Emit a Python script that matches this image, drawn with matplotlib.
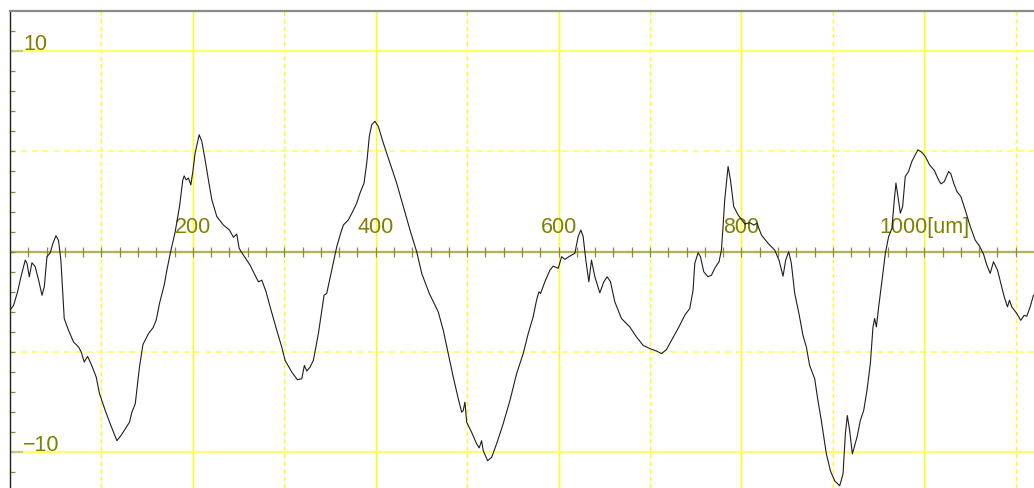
import matplotlib
matplotlib.use("Agg")
import matplotlib.pyplot as plt
import numpy as np

# Surface profile trace: position [um] and height
pos_um = [
    0.0, 3.9, 8.3, 12.0, 16.7, 18.6, 21.1, 24.0, 27.6, 31.3, 35.0, 37.5, 40.4, 44.0,
    47.0, 50.3, 53.1, 55.7, 59.3, 64.0, 69.5, 75.0, 77.9, 81.2, 84.8, 88.5, 94.3,
    97.9, 104.2, 109.6, 116.9, 121.3, 126.0, 130.7, 133.3, 137.0, 141.6, 145.4,
    151.5, 156.3, 159.9, 163.5, 168.6, 171.6,
    175.2, 180.7, 185.4, 189.0, 190.5, 192.7, 195.2, 197.8, 200.0, 202.5, 206.9,
    209.8, 213.4, 217.0, 220.8, 226.2, 233.4, 240.0, 244.4, 248.0, 250.6, 255.3,
    262.6, 268.0, 271.7, 275.4, 280.1, 284.5, 291.8, 297.2, 300.9, 308.2, 314.3,
    319.1, 322.0, 324.6, 328.2, 331.8, 337.3, 343.5, 346.4, 351.9, 357.4, 361.5,
    364.6, 370.0, 374.8, 379.2, 382.8, 387.2, 390.2, 393.0, 395.6, 399.2, 402.8,
    408.3, 415.6, 422.9, 430.2, 437.5, 444.8, 450.3, 458.6, 468.4, 473.9, 479.3,
    484.8, 490.3, 494.0, 495.7, 497.6, 499.5, 504.9, 510.4, 513.2, 515.8, 517.6,
    522.4, 526.8, 532.2, 539.4, 546.8,
    554.1, 561.3, 566.8, 572.2, 575.9, 578.5, 580.3, 585.0, 590.5, 594.1, 599.6,
    603.3, 606.9, 612.3, 617.8, 621.4, 624.4, 626.9, 629.8, 633.1, 636.0, 639.7,
    645.1, 649.5, 653.1, 656.8, 661.5, 668.8, 677.9, 685.2, 692.5, 699.8, 707.1,
    712.6, 718.0, 723.5, 730.7,
    738.0, 743.5, 747.1, 749.0, 752.6, 755.2, 758.8, 763.5, 767.2, 770.8, 775.5,
    778.1, 779.9, 781.7, 785.4, 788.0, 791.6, 796.4, 803.7, 809.1, 813.4, 817.0,
    821.9, 829.1, 836.4, 841.1, 845.5, 848.4, 851.7, 854.6, 858.3, 862.9, 867.3,
    871.0, 874.6, 880.1, 883.7, 887.4, 892.9, 897.3, 902.0, 907.5, 911.1, 913.7,
    915.8, 918.4, 921.3,
    926.4, 930.0, 933.7, 937.3, 941.0, 943.9, 945.7, 947.6, 950.1, 953.8, 957.4,
    961.0, 964.6, 967.2, 969.0, 971.2, 973.8, 976.3, 979.2, 982.8, 986.4, 990.1,
    993.0, 997.4, 1001.1, 1005.8, 1011.0, 1015.6, 1018.2, 1021.9, 1026.6, 1029.1,
    1032.1, 1035.7, 1040.0, 1044.8, 1050.3, 1055.7, 1060.4, 1064.8, 1068.4,
    1072.1, 1075.7, 1080.1, 1083.7, 1087.4, 1091.0, 1093.2, 1095.7, 1101.2,
    1105.5, 1109.3, 1112.1, 1115.8, 1119.4,
]
height = [
    -2.92, -2.67, -2.0, -1.25, -0.42, -0.58, -1.25, -0.55, -0.75, -1.42, -2.17,
    -1.75, -0.25, -0.05, 0.42, 0.8, 0.55, -0.45, -3.33, -3.92, -4.5, -4.75, -5.0,
    -5.5, -5.22, -5.58, -6.25, -7.08, -7.92, -8.58, -9.42, -9.17, -8.83, -8.5,
    -8.0, -7.58, -5.75, -4.63, -4.08, -3.8, -3.42, -2.58, -1.67, -0.92,
    -0.1, 1.0, 2.25, 3.58, 3.78, 3.58, 3.67, 3.33, 4.0, 4.92, 5.83, 5.5, 4.58,
    3.58, 2.58, 1.75, 1.33, 1.08, 0.72, 0.88, 0.17, -0.17, -0.67, -1.17, -1.5,
    -1.42, -2.0, -2.75, -3.92, -4.75, -5.42, -6.0, -6.38, -6.33, -5.67, -5.95,
    -5.75, -5.42, -4.08, -2.17, -2.08, -0.92, 0.25, 0.9,
    1.33, 1.58, 2.0, 2.42, 2.92, 3.42, 4.42, 5.75, 6.33, 6.5, 6.25, 5.42, 4.42,
    3.42, 2.25, 1.08, 0.0, -1.08, -2.08, -3.0, -3.92, -5.08, -6.25, -7.33, -8.0,
    -7.92, -7.5, -8.5, -9.0, -9.58, -9.78, -9.42, -9.92, -10.42, -10.25, -9.58,
    -8.58, -7.42,
    -6.08, -5.08, -4.08, -3.25, -2.42, -2.0, -2.08, -1.5, -0.92, -0.72, -0.83,
    -0.25, -0.38, -0.22, -0.08, 0.75, 1.08, 0.75, -0.42, -1.5, -0.42, -1.25,
    -2.05, -1.5, -1.25, -1.5, -2.5, -3.33, -3.75, -4.25, -4.67, -4.83, -4.95,
    -5.08, -4.88, -4.42, -3.83,
    -3.17, -2.83, -1.92, -0.58, -0.05, -0.25, -1.0, -1.25, -1.17, -0.83, -0.5,
    0.08, 1.25, 2.58, 4.25, 3.58, 2.25, 1.83, 1.38, 1.45, 1.33, 1.42, 0.83, 0.42,
    0.08, -0.42, -1.22, -0.42, 0.0, -0.58, -2.08, -3.08, -4.17, -4.75, -5.67,
    -6.33, -7.42, -8.42, -10.08, -10.92, -11.42, -11.67, -11.08, -9.08, -8.17,
    -8.92, -10.08,
    -9.25, -8.42, -7.92, -6.92, -5.58, -3.75, -3.33, -3.75, -2.75, -1.42, -0.08,
    0.75, 1.17, 2.58, 3.42, 2.75, 1.92, 2.25, 3.75, 4.0, 4.5, 4.83, 5.08, 4.95,
    4.75, 4.33, 4.05, 3.58, 3.38, 3.5, 4.0, 3.88, 3.42, 3.0, 2.75, 2.08, 1.25,
    0.58, 0.28, -0.12, -0.67, -1.08, -0.5, -0.92, -1.58, -2.25, -2.75, -2.42,
    -2.75, -3.08, -3.42, -3.17, -3.22, -2.75, -2.17,
]

x_labels = ["200", "400", "600", "800", "1000[um]"]
x_label_pos = [200, 400, 600, 800, 1000]
y_labels = ["10", "\u221210"]
y_label_pos = [10, -10]

X_MAX = 1120
Y_MIN, Y_MAX = -11.78, 12.0

label_color = "#808000"
axis_color = "#b2b264"
tick_color = "#8c8c28"

fig = plt.figure(figsize=(10.34, 4.88), dpi=100)
ax = fig.add_axes([10 / 1034, 0, 1 - 10 / 1034, (488 - 11) / 488])
ax.set_xlim(0, X_MAX)
ax.set_ylim(Y_MIN, Y_MAX)
ax.set_xticks([])
ax.set_yticks([])
for side in ("right", "bottom"):
    ax.spines[side].set_visible(False)
ax.spines["left"].set_color("#202020")
ax.spines["left"].set_linewidth(1.0)
ax.spines["top"].set_color("#8a8a8a")
ax.spines["top"].set_linewidth(1.6)

# Grid: solid every 200 um, dashed halfway between
for xv in range(100, X_MAX, 100):
    if xv % 200 == 0:
        ax.axvline(xv, color="#ffff00", lw=1.0, zorder=1)
    else:
        ax.axvline(xv, color="#ffff00", lw=0.9, ls=(0, (3.5, 2.5)), zorder=1)
for yv in (10, -10):
    ax.axhline(yv, color="#ffff70", lw=1.6, zorder=1)
for yv in (5, -5):
    ax.axhline(yv, color="#ffff70", lw=1.3, ls=(0, (3.5, 2.5)), zorder=1)

# Zero axis with ticks every 20 um
ax.axhline(0, color=axis_color, lw=1.7, zorder=2)
tick_x = np.arange(20, X_MAX, 20)
ax.vlines(tick_x, -0.25, 0.25, color=tick_color, lw=0.9, zorder=2)

# Vertical scale ticks every unit on the left axis
tick_y = np.arange(-11, 12, 1)
ax.hlines(tick_y, 0, 5.5, color=tick_color, lw=0.9, zorder=2)
ax.hlines([10, -10], 0, 14, color="#c6c68a", lw=1.6, zorder=2)

# Profile trace
ax.plot(pos_um, height, color="#1e1e1e", lw=0.8, zorder=4)

font = dict(family=["Liberation Sans", "DejaVu Sans"], size=15.5, color=label_color)
for xv, lab in zip(x_label_pos, x_labels):
    ax.text(xv, 0.95, lab, ha="center", va="baseline", zorder=3, **font)
for yv, lab in zip(y_label_pos, y_labels):
    ax.text(14.3, yv + 0.04, lab, ha="left", va="baseline", zorder=3, **font)

fig.savefig("out.png", dpi=100)
